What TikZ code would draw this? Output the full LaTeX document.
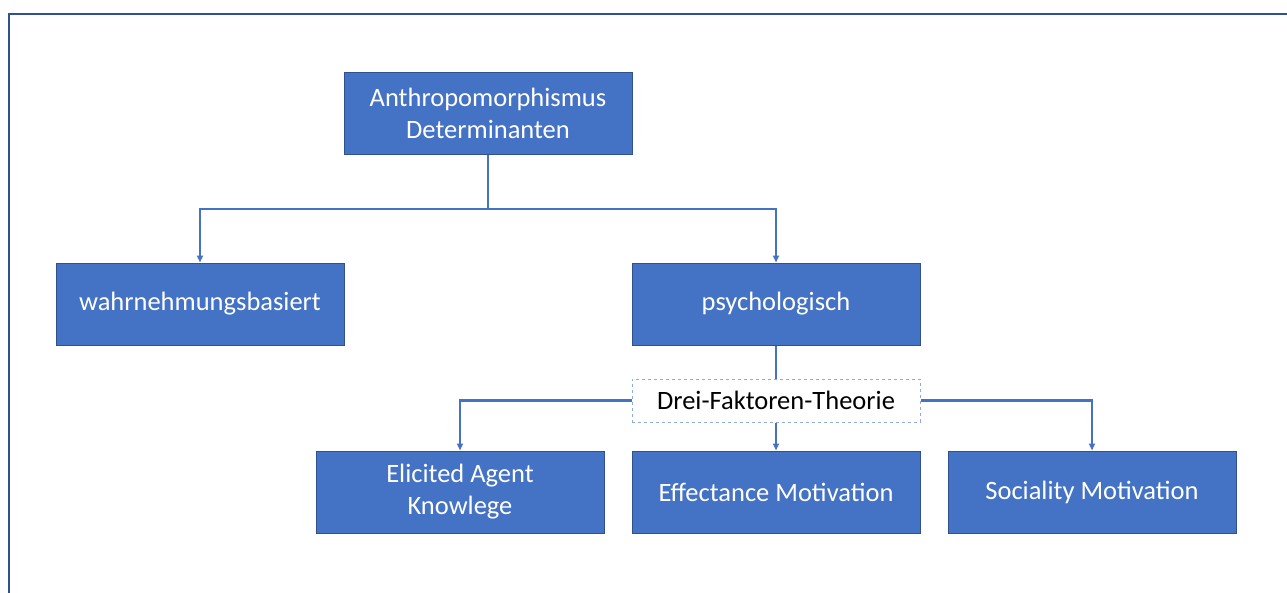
\documentclass[tikz,border=0pt]{standalone}
\usepackage{fontspec}
\setmainfont{Carlito}
\usetikzlibrary{arrows.meta}
\definecolor{boxfill}{RGB}{68,114,196}
\definecolor{boxedge}{RGB}{47,82,143}
\definecolor{dashedge}{RGB}{143,170,220}
\definecolor{frameblue}{RGB}{47,82,143}
\tikzset{
  box/.style={draw=boxedge, line width=1pt, fill=boxfill, text=white, minimum width=288pt, minimum height=82pt, inner sep=0pt, align=center, font=\fontsize{26.5pt}{32pt}\selectfont},
  dbox/.style={draw=dashedge, dashed, line width=1pt, fill=white, text=black, minimum width=288pt, minimum height=43pt, inner sep=0pt, align=center, font=\fontsize{26.5pt}{32pt}\selectfont},
  conn/.style={draw=boxfill, line width=2.5pt},
  arr/.style={conn, -{Triangle[width=6pt,length=7pt]}}
}
\begin{document}
\begin{tikzpicture}[x=1pt,y=-1pt]
\useasboundingbox (0,0) rectangle (1287,592);
\draw[frameblue, line width=2pt] (9,600) -- (9,14) -- (1300,14);
\node[box] (top) at (488,113.5) {Anthropomorphismus\\Determinanten};
\node[box] (wahr) at (200,304) {wahrnehmungsbasiert};
\node[box] (psych) at (776,304) {psychologisch};
\node[dbox] (drei) at (776,400.5) {Drei-Faktoren-Theorie};
\node[box] (eli) at (460,492) {Elicited Agent\\Knowlege};
\node[box] (eff) at (776,492) {Effectance Motivation};
\node[box] (soc) at (1092,492) {Sociality Motivation};
\coordinate (split) at (488,209);
\draw[conn] (top.south) -- (split);
\draw[arr] (split) -| (wahr.north);
\draw[arr] (split) -| (psych.north);
\draw[conn] (psych.south) -- (drei.north);
\draw[arr] (drei.west) -| (eli.north);
\draw[arr] (drei.south) -- (eff.north);
\draw[arr] (drei.east) -| (soc.north);
\end{tikzpicture}
\end{document}
